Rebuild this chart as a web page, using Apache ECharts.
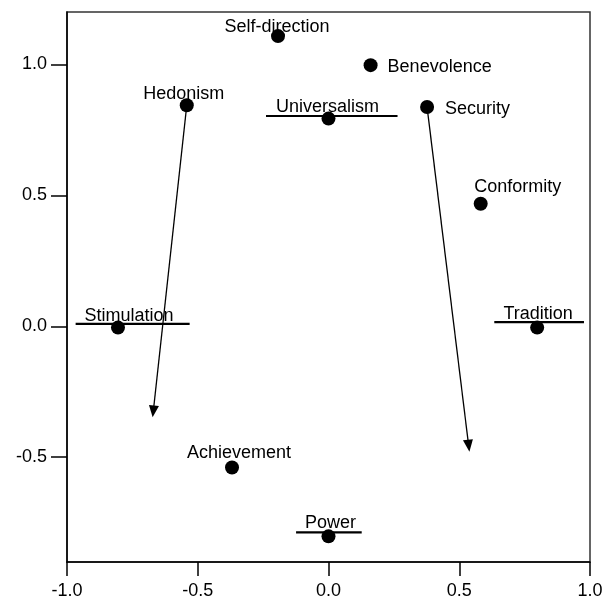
<!DOCTYPE html>
<html><head><meta charset="utf-8">
<script src="https://cdn.jsdelivr.net/npm/echarts@6/dist/echarts.min.js"></script>
<style>html,body{margin:0;padding:0;background:#fff}#c{width:611px;height:598px}</style>
</head><body><div id="c"></div>
<script>
// Points
const names = ['Self-direction','Benevolence','Hedonism','Universalism','Security','Conformity','Tradition','Stimulation','Achievement','Power'];
const xVals = [-0.193, 0.161, -0.542, 0.000, 0.377, 0.582, 0.798, -0.805, -0.369, 0.000];
const yVals = [1.108, 0.997, 0.844, 0.793, 0.837, 0.468, -0.005, -0.005, -0.539, -0.802];
// Horizontal range bars
const barNames = ['Universalism','Stimulation','Tradition','Power'];
const barStart = [-0.239, -0.967, 0.634, -0.124];
const barEnd   = [0.264, -0.531, 0.977, 0.127];
const barY     = [0.803, 0.009, 0.016, -0.787];
// Arrows
const arrowFromX = [-0.542, 0.377];
const arrowFromY = [0.844, 0.837];
const arrowToX   = [-0.670, 0.536];
const arrowToY   = [-0.325, -0.456];
// Ticks
const xTicks = [-1.0, -0.5, 0.0, 0.5, 1.0];
const yTicks = [-0.5, 0.0, 0.5, 1.0];

// label placement (style only)
const labelStyle = {
  'Self-direction': {position: 'inside', offset: [-1, -9]},
  'Benevolence':    {position: 'right', distance: 10, offset: [0, 2]},
  'Hedonism':       {position: 'inside', offset: [-3, -11]},
  'Universalism':   {position: 'inside', offset: [-1, -12]},
  'Security':       {position: 'right', distance: 11, offset: [0, 2]},
  'Conformity':     {position: 'inside', offset: [37, -17]},
  'Tradition':      {position: 'inside', offset: [1, -14]},
  'Stimulation':    {position: 'inside', offset: [11, -12]},
  'Achievement':    {position: 'inside', offset: [7, -14]},
  'Power':          {position: 'inside', offset: [2, -13]}
};

const FONT = 'Liberation Sans, Arial, sans-serif';
const pts = names.map((n, i) => ({
  name: n,
  value: [xVals[i], yVals[i]],
  label: Object.assign({show: true, formatter: n, color: '#000', fontSize: 18, fontFamily: FONT}, labelStyle[n])
}));

const series = [];
barNames.forEach((n, i) => {
  series.push({
    type: 'line', name: n + ' range', data: [[barStart[i], barY[i]], [barEnd[i], barY[i]]],
    symbol: 'none', lineStyle: {color: '#000', width: 2.2}, silent: true, z: 3, animation: false
  });
});
series.push({
  type: 'line', data: [], silent: true, animation: false,
  markLine: {
    silent: true, animation: false,
    symbol: ['none', 'triangle'], symbolSize: [10, 12],
    lineStyle: {color: '#000', width: 1.3, type: 'solid'},
    label: {show: false},
    emphasis: {disabled: true},
    data: arrowFromX.map((x, i) => [
      {coord: [x, arrowFromY[i]]},
      {coord: [arrowToX[i], arrowToY[i]]}
    ])
  }
});
series.push({
  type: 'scatter', data: pts, symbol: 'circle', symbolSize: 14,
  itemStyle: {color: '#000', opacity: 1}, z: 5, animation: false,
  emphasis: {disabled: true}
});

const chart = echarts.init(document.getElementById('c'), null, {renderer: 'canvas'});
chart.setOption({
  backgroundColor: '#fff',
  animation: false,
  grid: {left: 67, right: 21, top: 12, bottom: 36, containLabel: false, outerBoundsMode: 'none',
         show: true, borderColor: '#333', borderWidth: 1.5, backgroundColor: 'transparent'},
  xAxis: {
    type: 'value', min: -1.0, max: 1.0, interval: 0.5,
    axisLine: {show: true, onZero: false, lineStyle: {color: '#000', width: 1.5}},
    axisTick: {show: true, length: 14, lineStyle: {color: '#000', width: 1.5}, customValues: xTicks},
    axisLabel: {color: '#000', fontSize: 18, fontFamily: FONT, margin: 20, customValues: xTicks,
                formatter: v => v.toFixed(1)},
    splitLine: {show: false}
  },
  yAxis: {
    type: 'value', min: -0.9, max: 1.2,
    axisLine: {show: true, onZero: false, lineStyle: {color: '#000', width: 1.5}},
    axisTick: {show: true, length: 16, lineStyle: {color: '#000', width: 1.5}, customValues: yTicks},
    axisLabel: {color: '#000', fontSize: 18, fontFamily: FONT, margin: 20, customValues: yTicks,
                formatter: v => v.toFixed(1)},
    splitLine: {show: false}
  },
  series: series
});
</script>
</body></html>
